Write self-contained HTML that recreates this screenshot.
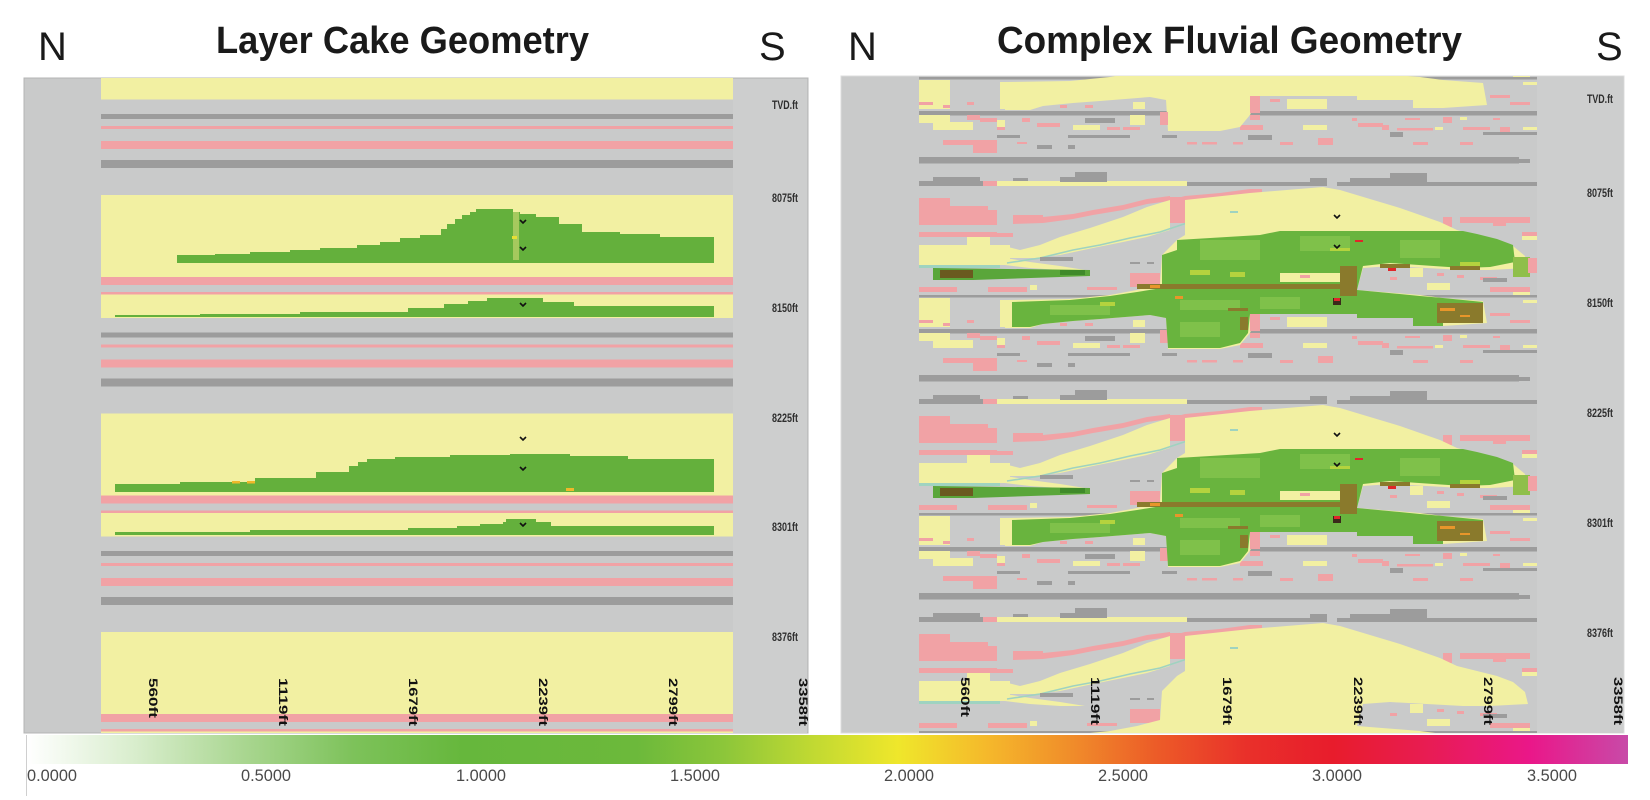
<!DOCTYPE html>
<html><head><meta charset="utf-8"><style>
html,body{margin:0;padding:0;background:#fff;}
svg{display:block;}
.d{fill:#9c9c9c}.p{fill:#f1a2a5}.y{fill:#f2f0a2}.t{fill:#9fd3c0}.b{fill:#8a7a2c}.o{fill:#e8962a}.lg{fill:#7fc14a}.yg{fill:#b4d33e}
.lab{font-family:"Liberation Sans",sans-serif;font-size:12px;font-weight:bold;fill:#2e2e2e;}
.tk{font-family:"Liberation Sans",sans-serif;font-size:12px;font-weight:bold;fill:#111;}
.cb{font-family:"Liberation Sans",sans-serif;font-size:17px;fill:#4a4a4a;}
</style></head><body>
<svg width="1650" height="800" viewBox="0 0 1650 800" xmlns="http://www.w3.org/2000/svg">
<defs>
<clipPath id="cl"><rect x="101" y="78" width="632" height="655"/></clipPath>
<clipPath id="cr"><rect x="919" y="76" width="618" height="657"/></clipPath>
<linearGradient id="cbg" x1="0" y1="0" x2="1" y2="0">
<stop offset="0" stop-color="#ffffff"/>
<stop offset="0.068" stop-color="#d8edcc"/>
<stop offset="0.136" stop-color="#a9d690"/>
<stop offset="0.204" stop-color="#7dc25a"/>
<stop offset="0.272" stop-color="#66b73c"/>
<stop offset="0.381" stop-color="#6cb93b"/>
<stop offset="0.435" stop-color="#8cc63a"/>
<stop offset="0.490" stop-color="#c0d932"/>
<stop offset="0.544" stop-color="#efe72b"/>
<stop offset="0.599" stop-color="#f5b92b"/>
<stop offset="0.653" stop-color="#f08c2a"/>
<stop offset="0.707" stop-color="#ec5a28"/>
<stop offset="0.762" stop-color="#e9302a"/>
<stop offset="0.816" stop-color="#e81c2c"/>
<stop offset="0.871" stop-color="#e81c50"/>
<stop offset="0.939" stop-color="#ea1789"/>
<stop offset="1" stop-color="#c84aa8"/>
</linearGradient>

<g id="LU">
<rect class="d" x="101" y="114" width="632" height="5"/>
<rect class="p" x="101" y="126" width="632" height="3"/>
<rect class="p" x="101" y="141" width="632" height="8"/>
<rect class="d" x="101" y="160" width="632" height="8"/>
<rect class="y" x="101" y="195" width="632" height="82"/>
<rect class="p" x="101" y="277" width="632" height="8"/>
<rect class="p" x="101" y="292" width="632" height="2.5"/>
<rect class="y" x="101" y="294.5" width="632" height="23.5"/>
</g>

<g id="RU">
<rect class="d" x="919" y="111" width="618" height="4.5"/>
<rect class="y" x="919" y="115" width="31" height="8"/>
<rect class="y" x="933" y="122" width="40" height="8"/>
<rect class="p" x="967" y="115" width="13" height="5"/>
<rect class="p" x="980" y="118" width="17" height="4"/>
<rect class="y" x="997" y="120" width="8" height="7"/>
<rect class="p" x="997" y="127" width="8" height="3"/>
<rect class="p" x="1022" y="118" width="8" height="4"/>
<rect class="p" x="1037" y="123" width="23" height="4"/>
<rect class="d" x="1085" y="118" width="30" height="5"/>
<rect class="y" x="1073" y="125" width="27" height="5"/>
<rect class="p" x="1107" y="127" width="13" height="3"/>
<rect class="y" x="1130" y="115" width="15" height="10"/>
<rect class="p" x="1123" y="127" width="17" height="3"/>
<rect class="d" x="997" y="135" width="23" height="3"/>
<rect class="d" x="1068" y="135" width="62" height="3"/>
<rect class="d" x="1037" y="145" width="15" height="4"/>
<rect class="d" x="1068" y="145" width="7" height="4"/>
<rect class="d" x="1162" y="135" width="15" height="3"/>
<rect class="p" x="943" y="140" width="54" height="5"/>
<rect class="p" x="973" y="145" width="24" height="8"/>
<rect class="p" x="1017" y="142" width="10" height="2"/>
<rect class="p" x="1187" y="142" width="10" height="2.5"/>
<rect class="p" x="1202" y="142" width="15" height="2.5"/>
<rect class="p" x="1233" y="142" width="10" height="2.5"/>
<rect class="d" x="1248" y="135" width="24" height="5"/>
<rect class="p" x="1250" y="115" width="10" height="5"/>
<rect class="p" x="1240" y="125" width="23" height="5"/>
<rect class="p" x="1280" y="142" width="13" height="3"/>
<rect class="y" x="1303" y="125" width="24" height="5"/>
<rect class="p" x="1318" y="138" width="15" height="7"/>
<rect class="p" x="1352" y="118" width="5" height="3"/>
<rect class="p" x="1358" y="123" width="25" height="4"/>
<rect class="p" x="1382" y="125" width="7" height="5"/>
<rect class="d" x="1390" y="132" width="13" height="5"/>
<rect class="p" x="1397" y="128" width="36" height="2.5"/>
<rect class="p" x="1405" y="118" width="15" height="2"/>
<rect class="p" x="1413" y="142" width="15" height="3"/>
<rect class="y" x="1435" y="127" width="8" height="3"/>
<rect class="p" x="1443" y="117" width="9" height="6"/>
<rect class="y" x="1460" y="117" width="7" height="3"/>
<rect class="p" x="1463" y="127" width="27" height="3"/>
<rect class="d" x="1483" y="132" width="54" height="3"/>
<rect class="p" x="1493" y="118" width="7" height="2"/>
<rect class="p" x="1500" y="127" width="10" height="5"/>
<rect class="y" x="1523" y="127" width="14" height="3"/>
<rect class="p" x="1460" y="142" width="13" height="3"/>
<rect class="d" x="919" y="157" width="600" height="6.5"/>
<rect class="d" x="1519" y="159" width="11" height="4"/>
<rect class="d" x="919" y="181" width="64" height="5"/>
<rect class="d" x="933" y="177" width="47" height="5"/>
<rect class="p" x="983" y="181" width="14" height="5"/>
<rect class="y" x="997" y="181" width="190" height="5"/>
<rect class="d" x="1013" y="178" width="15" height="3"/>
<rect class="d" x="1060" y="177" width="47" height="5"/>
<rect class="d" x="1075" y="172" width="32" height="6"/>
<rect class="d" x="1187" y="182" width="140" height="4"/>
<rect class="d" x="1310" y="178" width="17" height="4"/>
<rect class="d" x="1337" y="182" width="200" height="4"/>
<rect class="d" x="1350" y="178" width="77" height="4"/>
<rect class="d" x="1390" y="173" width="37" height="5"/>
<rect class="p" x="919" y="198" width="31" height="27"/>
<rect class="p" x="950" y="210" width="47" height="15"/>
<rect class="p" x="950" y="206" width="38" height="4"/>
<rect class="p" x="1013" y="215" width="30" height="8"/>
<polygon class="p" points="1013,219 1043,217 1073,214 1093,210 1123,205 1147,199 1170,196 1170,201 1147,204 1123,210 1093,215 1073,219 1043,223 1013,224"/>
<rect class="p" x="1170" y="197" width="15" height="26"/>
<polygon class="p" points="1170,200 1185,196 1220,193 1250,189 1262,189 1262,194 1220,197 1185,201"/>
<rect class="p" x="919" y="232" width="78" height="5"/>
<rect class="p" x="990" y="233" width="23" height="4"/>
<rect class="y" x="967" y="237" width="23" height="8"/>
<rect class="y" x="919" y="245" width="91" height="20"/>
<polygon class="y" points="1000,245 1020,250 1040,245 1060,237 1090,228 1123,217 1147,207 1170,200 1170,230 1147,237 1123,242 1093,248 1060,255 1035,258 1010,258"/>
<polygon class="y" points="1005,258 1030,262 1060,266 1085,270 1060,270 1030,268 1005,265"/>
<rect class="t" x="919" y="265" width="81" height="3"/>
<polyline points="1007,263 1040,258 1073,250 1100,245 1130,238 1160,232 1190,222 1225,213" fill="none" stroke="#9fd3c0" stroke-width="1.6"/>
<rect class="d" x="1040" y="257" width="33" height="4"/>
<rect class="d" x="1130" y="262" width="10" height="2"/>
<rect class="d" x="1147" y="262" width="7" height="2"/>
<rect class="p" x="919" y="287" width="38" height="5"/>
<rect class="p" x="988" y="287" width="39" height="5"/>
<rect class="y" x="1030" y="285" width="7" height="5"/>
<rect class="p" x="1087" y="287" width="30" height="3"/>
<rect class="p" x="1130" y="273" width="30" height="14"/>
<rect class="d" x="919" y="295" width="618" height="2.5"/>
<rect class="y" x="919" y="298" width="31" height="29"/>
<rect class="y" x="1000" y="300" width="12" height="27"/>
<rect class="p" x="919" y="320" width="14" height="3"/>
<rect class="p" x="943" y="323" width="7" height="3"/>
<rect class="p" x="967" y="320" width="7" height="3"/>
<rect class="p" x="1037" y="320" width="17" height="3"/>
<rect class="p" x="1060" y="323" width="7" height="3"/>
<rect class="p" x="1085" y="323" width="8" height="3"/>
<rect class="y" x="1133" y="320" width="12" height="7"/>
<rect class="p" x="1443" y="217" width="9" height="10"/>
<rect class="p" x="1460" y="217" width="70" height="6"/>
<rect class="p" x="1493" y="223" width="13" height="3"/>
<rect class="p" x="1522" y="232" width="15" height="4"/>
<rect class="y" x="1522" y="236" width="15" height="4"/>
<rect class="y" x="1410" y="268" width="13" height="9"/>
<rect class="y" x="1427" y="283" width="23" height="7"/>
<rect class="p" x="1390" y="277" width="7" height="3"/>
<rect class="p" x="1437" y="273" width="7" height="3"/>
<rect class="p" x="1457" y="275" width="7" height="3"/>
<rect class="p" x="1480" y="277" width="17" height="3"/>
<rect class="d" x="1483" y="278" width="24" height="4"/>
<rect class="p" x="1490" y="287" width="40" height="5"/>
<rect class="y" x="1513" y="292" width="17" height="3"/>
<rect class="y" x="1523" y="300" width="14" height="3"/>
<rect class="y" x="1287" y="317" width="40" height="10"/>
<rect class="p" x="1270" y="317" width="10" height="3"/>
<rect class="p" x="1463" y="313" width="20" height="10"/>
<rect class="p" x="1490" y="313" width="20" height="3"/>
<rect class="p" x="1510" y="320" width="20" height="3"/>
</g>

<g id="RFP">
<polygon class="y" points="1005,300 1070,299 1110,295 1137,290 1160,284 1162,255 1177,240 1185,235 1185,200 1250,193 1323,187 1340,190 1360,196 1380,202 1400,208 1420,215 1440,222 1457,230 1477,235 1497,240 1513,246 1525,256 1528,268 1490,270 1463,270 1390,266 1363,268 1357,290 1420,295 1443,298 1483,301 1487,323 1443,326 1413,326 1413,318 1357,318 1357,314 1258,314 1250,333 1240,345 1220,349 1168,349 1166,318 1150,315 1100,319 1073,321 1043,324 1030,328 1005,328"/>
<rect class="p" x="1250" y="314" width="10" height="17"/>
<rect class="p" x="1160" y="330" width="8" height="13"/>
<rect class="t" x="1230" y="211" width="8" height="2"/>
</g>

<g id="RGR">
<polygon points="933,268 1090,270 1090,276 973,280 933,280" fill="#5aa63a"/>
<rect x="940" y="270" width="33" height="8" fill="#6a5a1f"/>
<rect x="1060" y="270" width="25" height="5" fill="#3f8a2a"/>
<polygon fill="#69b43e" points="1162,255 1177,250 1177,240 1260,235 1280,231 1463,231 1477,234 1497,239 1513,245 1515,262 1490,267 1463,268 1390,263 1363,266 1357,290 1420,296 1443,298 1483,302 1483,323 1443,322 1443,326 1413,326 1413,318 1357,318 1357,314 1250,314 1248,333 1240,343 1220,348 1168,348 1166,318 1150,315 1100,319 1073,321 1043,324 1030,327 1012,327 1012,302 1070,300 1110,296 1137,292 1162,288"/>
<rect class="lg" x="1200" y="240" width="60" height="20"/>
<rect class="lg" x="1300" y="236" width="50" height="15"/>
<rect class="lg" x="1400" y="240" width="40" height="18"/>
<rect class="lg" x="1180" y="300" width="60" height="10"/>
<rect class="lg" x="1260" y="297" width="40" height="12"/>
<rect class="lg" x="1050" y="305" width="60" height="10"/>
<rect class="lg" x="1180" y="322" width="40" height="15"/>
<rect class="yg" x="1190" y="270" width="20" height="5"/>
<rect class="yg" x="1230" y="272" width="15" height="5"/>
<rect class="yg" x="1460" y="262" width="20" height="5"/>
<rect class="yg" x="1330" y="248" width="20" height="3"/>
<rect class="yg" x="1100" y="302" width="15" height="4"/>
<rect class="y" x="1280" y="273" width="65" height="9"/>
<rect class="p" x="1300" y="275" width="10" height="3"/>
<rect class="b" x="1137" y="284" width="213" height="5"/>
<rect class="b" x="1340" y="266" width="17" height="30"/>
<rect class="b" x="1437" y="303" width="46" height="20"/>
<rect class="b" x="1380" y="264" width="30" height="4"/>
<rect class="b" x="1450" y="266" width="30" height="4"/>
<rect class="b" x="1240" y="317" width="8" height="13"/>
<rect class="b" x="1228" y="308" width="20" height="3"/>
<rect class="o" x="1150" y="285" width="10" height="3"/>
<rect class="o" x="1175" y="296" width="8" height="3"/>
<rect class="o" x="1440" y="308" width="15" height="3"/>
<rect class="o" x="1460" y="315" width="10" height="2"/>
<rect x="1513" y="257" width="17" height="20" fill="#8fbf4a"/>
<rect class="p" x="1528" y="258" width="9" height="15"/>
<rect x="1355" y="240" width="8" height="2" fill="#e0262a"/>
<rect x="1388" y="268" width="8" height="3" fill="#e0262a"/>
<rect x="1333" y="298" width="8" height="7" fill="#3a2a1a"/>
<rect x="1334" y="298" width="6" height="3" fill="#e0262a"/>
<path d="M1334,215 l3,3 l3,-3 M1334,245 l3,3 l3,-3" stroke="#111" stroke-width="1.6" fill="none"/>
</g>
</defs>

<rect x="0" y="0" width="1650" height="800" fill="#fff"/>

<!-- Titles -->
<text x="38" y="60" font-family="Liberation Sans, sans-serif" font-size="40" fill="#1a1a1a">N</text>
<text x="216" y="53" font-family="Liberation Sans, sans-serif" font-size="38" font-weight="bold" fill="#1a1a1a" textLength="373" lengthAdjust="spacingAndGlyphs">Layer Cake Geometry</text>
<text x="759" y="60" font-family="Liberation Sans, sans-serif" font-size="40" fill="#1a1a1a">S</text>
<text x="848" y="60" font-family="Liberation Sans, sans-serif" font-size="40" fill="#1a1a1a">N</text>
<text x="997" y="53" font-family="Liberation Sans, sans-serif" font-size="38" font-weight="bold" fill="#1a1a1a" textLength="465" lengthAdjust="spacingAndGlyphs">Complex Fluvial Geometry</text>
<text x="1596" y="60" font-family="Liberation Sans, sans-serif" font-size="40" fill="#1a1a1a">S</text>

<!-- Left panel -->
<rect x="24" y="78" width="784" height="655" fill="#c9caca" stroke="#b4b4b4" stroke-width="1"/>
<rect x="733" y="79" width="74" height="654" fill="#cdcece"/>
<g clip-path="url(#cl)">
<rect x="101" y="78" width="632" height="655" fill="#c9caca"/>
<use href="#LU" transform="translate(0,-218.5)"/>
<use href="#LU"/>
<use href="#LU" transform="translate(0,218.5)"/>
<use href="#LU" transform="translate(0,437)"/>
<g fill="#64b03c">
<path d="M177,263 V255 H215 V254 H250 V252 H290 V250 H320 V248 H357 V245 H380 V242 H400 V238 H420 V235 H441 V229 H447 V224 H455 V219 H462 V215 H470 V212 H476 V209 H513 V263 Z"/>
<path d="M513,263 V212 H520 V214 H536 V217 H559 V224 H582 V232 H620 V234 H660 V237 H714 V263 Z"/>
<path d="M115,317 V315 H200 V314 H300 V312 H408 V308 H444 V304 H468 V301 H487 V298 H543 V302 H574 V306 H714 V317 Z"/>
<path d="M115,492 V484 H180 V482 H255 V478 H316 V472 H349 V466 H358 V462 H367 V459 H395 V457 H450 V455 H510 V454 H570 V456 H628 V459 H714 V461 V492 Z"/>
<path d="M115,535 V532 H250 V530 H408 V528 H457 V526 H480 V524 H503 V522 H506 V519 H536 V522 H551 V526 H714 V528 V535 Z"/>
</g>
<rect x="513" y="212" width="6" height="48" fill="#a5c95e"/>
<rect x="512" y="236" width="5" height="3" fill="#e6e033"/>
<rect x="232" y="481" width="8" height="2.5" fill="#f0b82a"/>
<rect x="247" y="481" width="8" height="2.5" fill="#f0b82a"/>
<rect x="566" y="488" width="8" height="3" fill="#f0b82a"/>
<path d="M520,220 l3,3 l3,-3 M520,247 l3,3 l3,-3 M520,303 l3,3 l3,-3 M520,437 l3,3 l3,-3 M520,467 l3,3 l3,-3 M520,523 l3,3 l3,-3" stroke="#111" stroke-width="1.6" fill="none"/>
</g>
<text class="lab" x="772" y="109" textLength="26" lengthAdjust="spacingAndGlyphs">TVD.ft</text>
<text class="lab" x="772" y="202" textLength="26" lengthAdjust="spacingAndGlyphs">8075ft</text>
<text class="lab" x="772" y="312" textLength="26" lengthAdjust="spacingAndGlyphs">8150ft</text>
<text class="lab" x="772" y="422" textLength="26" lengthAdjust="spacingAndGlyphs">8225ft</text>
<text class="lab" x="772" y="531" textLength="26" lengthAdjust="spacingAndGlyphs">8301ft</text>
<text class="lab" x="772" y="641" textLength="26" lengthAdjust="spacingAndGlyphs">8376ft</text>
<g class="tk">
<text transform="translate(149,678) rotate(90)" textLength="40" lengthAdjust="spacingAndGlyphs">560ft</text>
<text transform="translate(279,678) rotate(90)" textLength="48" lengthAdjust="spacingAndGlyphs">1119ft</text>
<text transform="translate(409,678) rotate(90)" textLength="48" lengthAdjust="spacingAndGlyphs">1679ft</text>
<text transform="translate(539,678) rotate(90)" textLength="48" lengthAdjust="spacingAndGlyphs">2239ft</text>
<text transform="translate(669,678) rotate(90)" textLength="48" lengthAdjust="spacingAndGlyphs">2799ft</text>
<text transform="translate(799,678) rotate(90)" textLength="48" lengthAdjust="spacingAndGlyphs">3358ft</text>
</g>

<!-- Right panel -->
<rect x="841" y="76" width="783" height="657" fill="#c9caca" stroke="#dcdcdc" stroke-width="1"/>
<rect x="1537" y="77" width="86" height="656" fill="#cdcece"/>
<g clip-path="url(#cr)">
<rect x="919" y="76" width="618" height="657" fill="#c9caca"/>
<use href="#RU" transform="translate(0,-218)"/>
<use href="#RU"/>
<use href="#RU" transform="translate(0,218)"/>
<use href="#RU" transform="translate(0,436)"/>
<use href="#RFP" transform="translate(0,-218)"/>
<use href="#RFP"/>
<use href="#RFP" transform="translate(0,218)"/>
<use href="#RFP" transform="translate(0,436)"/>
<use href="#RGR"/>
<use href="#RGR" transform="translate(0,218)"/>
</g>
<text class="lab" x="1587" y="103" textLength="26" lengthAdjust="spacingAndGlyphs">TVD.ft</text>
<text class="lab" x="1587" y="197" textLength="26" lengthAdjust="spacingAndGlyphs">8075ft</text>
<text class="lab" x="1587" y="307" textLength="26" lengthAdjust="spacingAndGlyphs">8150ft</text>
<text class="lab" x="1587" y="417" textLength="26" lengthAdjust="spacingAndGlyphs">8225ft</text>
<text class="lab" x="1587" y="527" textLength="26" lengthAdjust="spacingAndGlyphs">8301ft</text>
<text class="lab" x="1587" y="637" textLength="26" lengthAdjust="spacingAndGlyphs">8376ft</text>
<g class="tk">
<text transform="translate(961,677) rotate(90)" textLength="40" lengthAdjust="spacingAndGlyphs">560ft</text>
<text transform="translate(1091,677) rotate(90)" textLength="48" lengthAdjust="spacingAndGlyphs">1119ft</text>
<text transform="translate(1223,677) rotate(90)" textLength="48" lengthAdjust="spacingAndGlyphs">1679ft</text>
<text transform="translate(1354,677) rotate(90)" textLength="48" lengthAdjust="spacingAndGlyphs">2239ft</text>
<text transform="translate(1484,677) rotate(90)" textLength="48" lengthAdjust="spacingAndGlyphs">2799ft</text>
<text transform="translate(1614,677) rotate(90)" textLength="48" lengthAdjust="spacingAndGlyphs">3358ft</text>
</g>

<!-- Colorbar -->
<rect x="27" y="735" width="1601" height="29" fill="url(#cbg)"/>
<line x1="26.5" y1="735" x2="26.5" y2="796" stroke="#cfcfcf" stroke-width="1"/>
<g class="cb" text-anchor="middle">
<text x="52" y="781" textLength="50" lengthAdjust="spacingAndGlyphs">0.0000</text>
<text x="266" y="781" textLength="50" lengthAdjust="spacingAndGlyphs">0.5000</text>
<text x="481" y="781" textLength="50" lengthAdjust="spacingAndGlyphs">1.0000</text>
<text x="695" y="781" textLength="50" lengthAdjust="spacingAndGlyphs">1.5000</text>
<text x="909" y="781" textLength="50" lengthAdjust="spacingAndGlyphs">2.0000</text>
<text x="1123" y="781" textLength="50" lengthAdjust="spacingAndGlyphs">2.5000</text>
<text x="1337" y="781" textLength="50" lengthAdjust="spacingAndGlyphs">3.0000</text>
<text x="1552" y="781" textLength="50" lengthAdjust="spacingAndGlyphs">3.5000</text>
</g>
</svg>
</body></html>
